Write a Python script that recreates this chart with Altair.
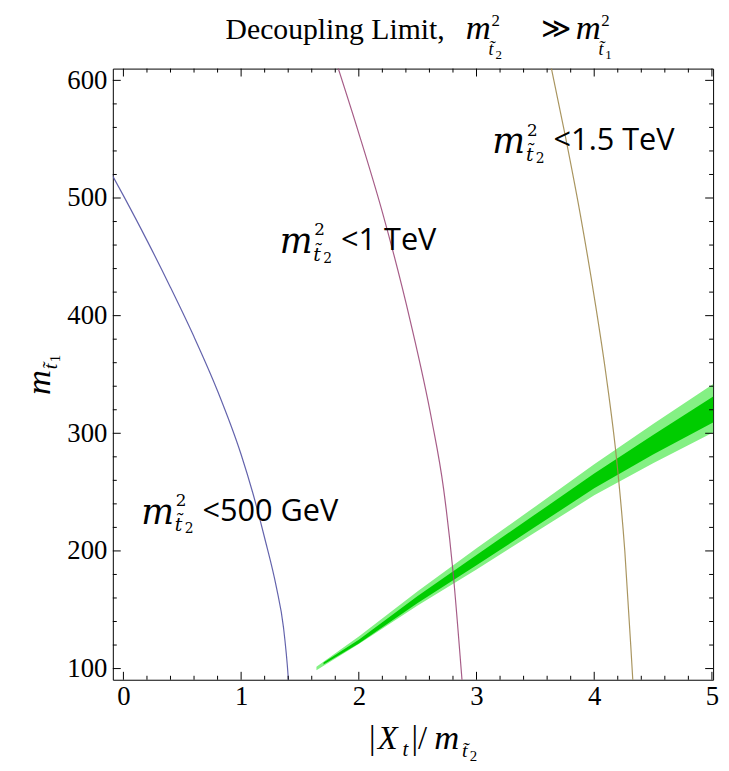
import altair as alt
import pandas as pd

# ---------------- data ----------------
x_major = [0, 1, 2, 3, 4, 5]
x_minor = [0.2, 0.4, 0.6, 0.8, 1.2, 1.4, 1.6, 1.8, 2.2, 2.4, 2.6, 2.8,
           3.2, 3.4, 3.6, 3.8, 4.2, 4.4, 4.6, 4.8]
y_major = [100, 200, 300, 400, 500, 600]
y_minor = [v for v in range(100, 610, 20) if v % 100 != 0]

# contour curves (|Xt|/m_t2, m_t1)
blue_x = [-0.12, 0.0, 0.2, 0.4, 0.6, 0.8, 1.0, 1.1, 1.2, 1.3, 1.36, 1.40, 1.42]
blue_y = [524, 502, 464, 424, 382, 336, 282, 249, 211, 169, 135, 93, 60]
mag_x = [1.80, 2.0, 2.2, 2.437, 2.619, 2.72, 2.80, 2.877, 2.885]
mag_y = [618, 555, 488, 395.6, 311.5, 253, 182.7, 90, 80]
oli_x = [3.62, 3.75, 3.88, 4.006, 4.10, 4.19, 4.26, 4.328, 4.334]
oli_y = [618, 555, 487, 412.4, 350, 278, 200, 90, 80]

# green band (light: outer, dark: inner)
band_x = [1.64, 2.0, 2.5, 3.0, 3.5, 4.0, 4.5, 5.02]
light_lo = [98.5, 120.8, 153.7, 184.2, 215.8, 247.3, 274.6, 301.2]
light_hi = [101.5, 127.2, 165.7, 202.2, 237.8, 273.7, 307.8, 342.4]
dark_x = [1.70, 2.0, 2.5, 3.0, 3.5, 4.0, 4.5, 5.02]
dark_lo = [103.5, 121.4, 155.7, 187.8, 220.5, 253.2, 281.9, 309.8]
dark_hi = [105.1, 124.6, 161.7, 196.6, 231.1, 265.8, 298.5, 331.8]

labels = ["<500 GeV", "<1 TeV", "<1.5 TeV"]
label_x = [0.151, 1.328, 3.134]
label_y = [223.3, 453.2, 537.9]

# ---------------- chart ----------------
W, H = 607, 618
xs = alt.Scale(domain=[-0.09, 5.01], nice=False, zero=False)
ys = alt.Scale(domain=[90.5, 610], nice=False, zero=False)
SERIF = "Liberation Serif"
MATH = "DejaVu Serif"
SANS = "Open Sans"

curves = pd.concat([
    pd.DataFrame({"x": blue_x, "y": blue_y, "c": "a"}),
    pd.DataFrame({"x": mag_x, "y": mag_y, "c": "b"}),
    pd.DataFrame({"x": oli_x, "y": oli_y, "c": "c"}),
])
light = pd.DataFrame({"x": band_x, "lo": light_lo, "hi": light_hi})
dark = pd.DataFrame({"x": dark_x, "lo": dark_lo, "hi": dark_hi})

x_axis = alt.Axis(values=x_major, ticks=False, domain=False, grid=False, title=None,
                  labelFont=SERIF, labelFontSize=27, labelColor="black",
                  labelPadding=4, labelFlush=False, labelOverlap=False, format="d")
y_axis = alt.Axis(values=y_major, ticks=False, domain=False, grid=False, title=None,
                  labelFont=SERIF, labelFontSize=27, labelColor="black",
                  labelPadding=6, labelFlush=False, labelOverlap=False, format="d")


def X(f):
    return alt.X(f, scale=xs, axis=x_axis)


def Y(f):
    return alt.Y(f, scale=ys, axis=y_axis)


light_layer = alt.Chart(light).mark_area(color="#84f084", clip=True).encode(
    x=X("x:Q"), y=Y("lo:Q"), y2="hi:Q")
dark_layer = alt.Chart(dark).mark_area(color="#00cc00", clip=True).encode(
    x=X("x:Q"), y=Y("lo:Q"), y2="hi:Q")
curve_layer = alt.Chart(curves).mark_line(strokeWidth=1.2, clip=True, opacity=0.9,
                                          interpolate="monotone").encode(
    x=X("x:Q"), y=Y("y:Q"),
    color=alt.Color("c:N", scale=alt.Scale(domain=["a", "b", "c"],
                                           range=["#5252a3", "#9c4a7a", "#a08a4e"]),
                    legend=None),
)


def tick_layer(vals, side, length):
    df = pd.DataFrame({"v": vals})
    m = alt.Chart(df).mark_rule(color="black", strokeWidth=1)
    if side == "bottom":
        return m.encode(x=X("v:Q"), y=alt.value(H), y2=alt.value(H - length))
    if side == "top":
        return m.encode(x=X("v:Q"), y=alt.value(0), y2=alt.value(length))
    if side == "left":
        return m.encode(y=Y("v:Q"), x=alt.value(0), x2=alt.value(length))
    return m.encode(y=Y("v:Q"), x=alt.value(W), x2=alt.value(W - length))


ticks = []
for side in ["bottom", "top"]:
    ticks.append(tick_layer(x_major, side, 8))
    ticks.append(tick_layer(x_minor, side, 4))
for side in ["left", "right"]:
    ticks.append(tick_layer(y_major, side, 8))
    ticks.append(tick_layer(y_minor, side, 4))

one = pd.DataFrame({"k": [0]})


def data_piece(xv, yv, text, dx, dy, size, font, style="normal"):
    df = pd.DataFrame({"x": [xv], "y": [yv]})
    return alt.Chart(df).mark_text(text=text, dx=dx, dy=dy, fontSize=size, font=font,
                                   fontStyle=style, align="left", baseline="alphabetic",
                                   color="black").encode(x=X("x:Q"), y=Y("y:Q"))


def px_piece(px, py, text, size, font, style="normal", angle=0, dx=0, dy=0):
    kw = dict(text=text, fontSize=size, font=font, fontStyle=style, align="left",
              baseline="alphabetic", color="black", dx=dx, dy=dy)
    if angle:
        kw["angle"] = angle
    return alt.Chart(one).mark_text(**kw).encode(x=alt.value(px), y=alt.value(py))


texts = []
for t, lx, ly in zip(labels, label_x, label_y):
    texts += [
        data_piece(lx, ly, "m", 0, 0, 35, MATH, "italic"),
        data_piece(lx, ly, "2", 35, -18, 17, MATH),
        data_piece(lx, ly, "t\u0303", 34, 8, 19, MATH, "italic"),
        data_piece(lx, ly, "2", 44, 10, 14, MATH),
        data_piece(lx, ly, t, 62, -3, 31, SANS),
    ]

# title
texts += [
    px_piece(114, -30, "Decoupling Limit,", 30, SERIF),
    px_piece(357, -30, "m", 35, SERIF, "italic"),
    px_piece(383, -43, "2", 17, SERIF),
    px_piece(380, -14, "t\u0303", 18, SERIF, "italic"),
    px_piece(387, -10, "2", 13, SERIF),
    px_piece(433, -31, "\u226b", 29, MATH),
    px_piece(468, -30, "m", 35, SERIF, "italic"),
    px_piece(494, -43, "2", 17, SERIF),
    px_piece(491, -14, "t\u0303", 18, SERIF, "italic"),
    px_piece(498, -10, "1", 13, SERIF),
]

# x axis title
texts += [
    px_piece(259, 688, "|", 33, SERIF),
    px_piece(268, 688, "X", 33, SERIF, "italic"),
    px_piece(293, 695, "t", 21, SERIF, "italic"),
    px_piece(302, 688, "|/", 33, SERIF),
    px_piece(325, 688, "m", 35, SERIF, "italic"),
    px_piece(353, 696, "t\u0303", 20, SERIF, "italic"),
    px_piece(361, 700, "2", 15, SERIF),
]

# y axis title (rotated)
texts += [
    px_piece(-64, 330, "m", 35, SERIF, "italic", angle=270),
    px_piece(-64, 330, "t\u0303", 20, SERIF, "italic", angle=270, dx=26, dy=8),
    px_piece(-64, 330, "1", 15, SERIF, angle=270, dx=33, dy=11),
]

chart = alt.layer(light_layer, dark_layer, curve_layer, *ticks, *texts).properties(
    width=W, height=H,
    padding={"left": 106, "top": 57, "right": 8, "bottom": 88},
    autosize=alt.AutoSizeParams(type="none"),
    background="white",
).configure_view(stroke="black", strokeWidth=1)

chart.save("out.html", embed_options={"renderer": "svg", "actions": False})
